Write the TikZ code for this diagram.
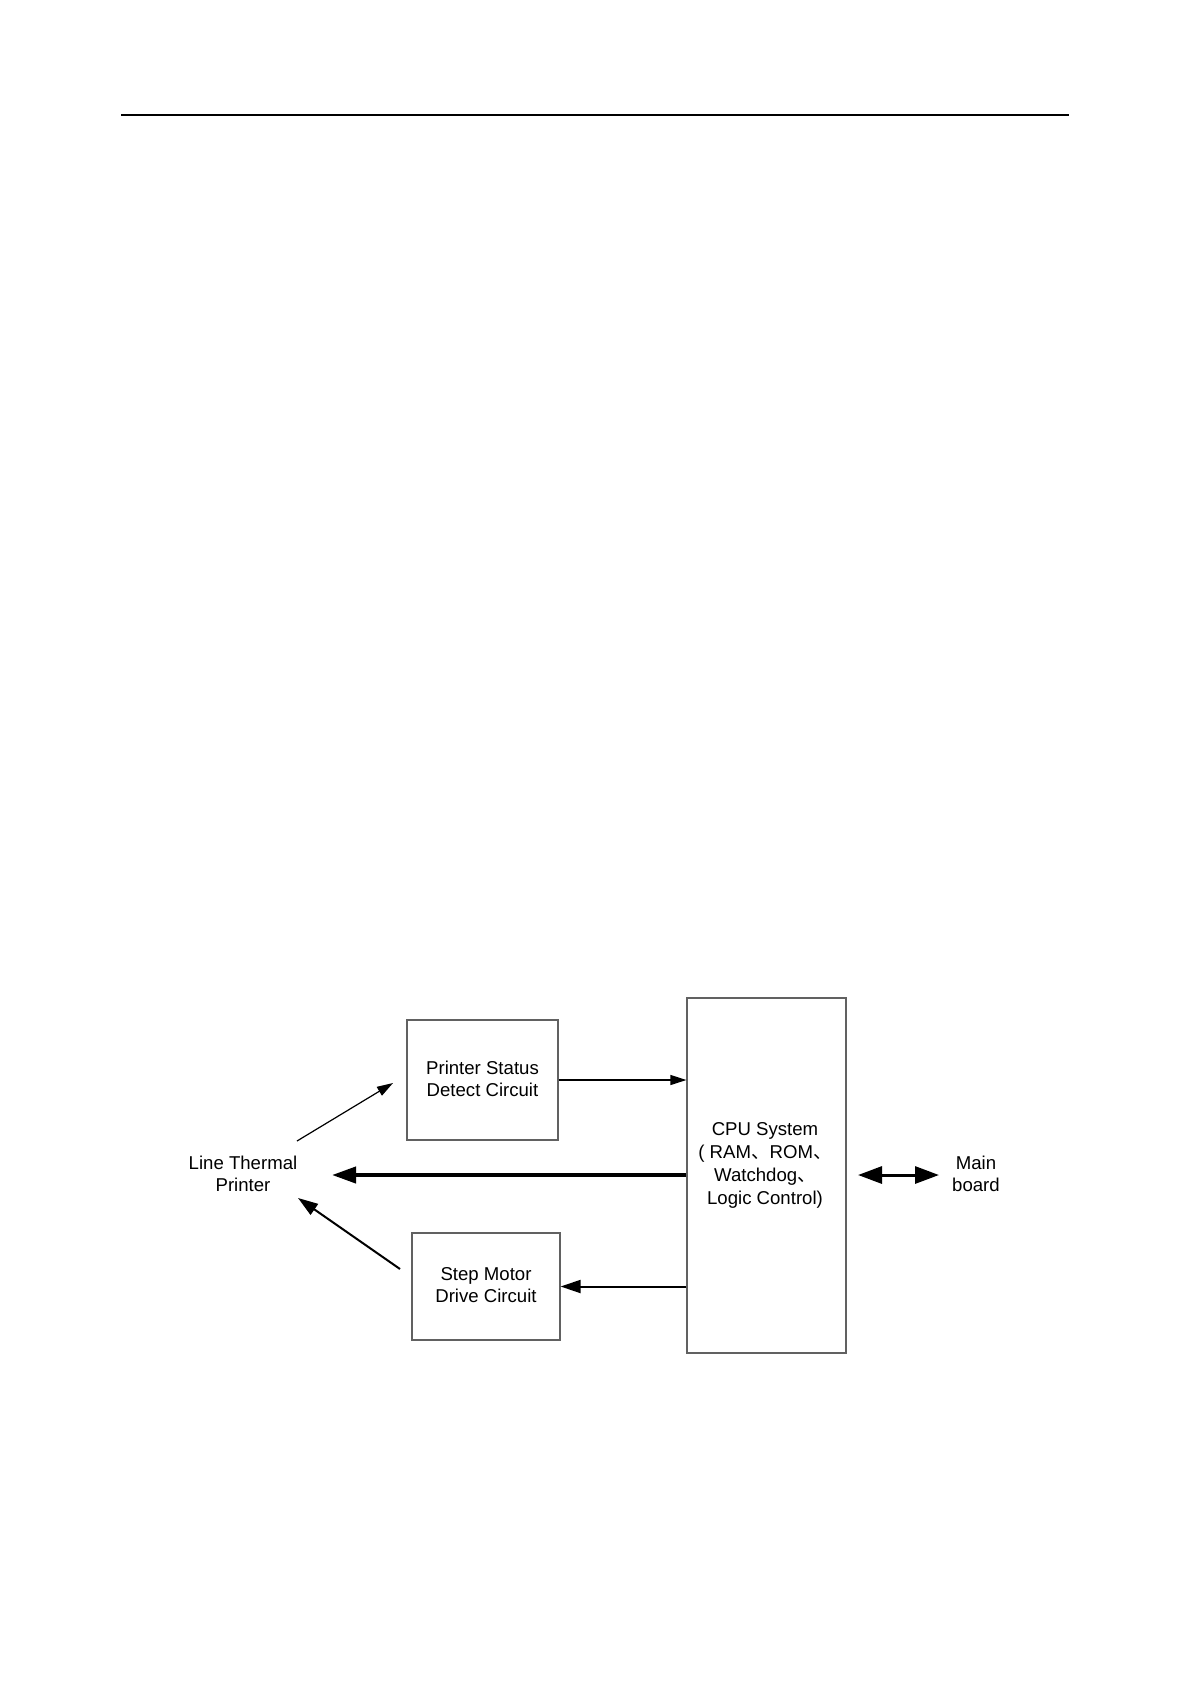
\documentclass[tikz,border=0pt]{standalone}
\usepackage{fontspec}
\setmainfont{Liberation Sans}
\newfontfamily\cjk{Noto Sans CJK SC}
\usetikzlibrary{arrows.meta}
\begin{document}
\begin{tikzpicture}[x=0.5pt,y=-0.5pt,
  box/.style={draw=black!62, line width=0.6pt, inner sep=0pt},
  lbl/.style={align=center, inner sep=0pt, font=\fontsize{9.3pt}{11pt}\selectfont},
  thinarrow/.style={line width=0.6pt, -{Triangle[length=8pt,width=5pt]}},
  medarrow/.style={line width=1pt, -{Triangle[length=10pt,width=6.5pt]}},
  thickarrow/.style={line width=2pt, -{Triangle[length=12pt,width=8pt]}},
  dblarrow/.style={line width=1.5pt, {Triangle[length=12pt,width=8.5pt]}-{Triangle[length=12pt,width=8.5pt]}}]
\useasboundingbox (0,0) rectangle (1190,1682);
\coordinate (rl) at (121,115);
\coordinate (rr) at (1069,115);
\draw[line width=0.75pt] (rl) -- (rr);

\node[box, minimum width=75.5pt, minimum height=60pt] (ps) at (482.5,1080) {};
\node[lbl] (pstext) at (482.5,1079) {Printer Status\\Detect Circuit};
\node[box, minimum width=74pt, minimum height=53.5pt] (sm) at (486,1286.5) {};
\node[lbl] (smtext) at (486,1285.5) {Step Motor\\Drive Circuit};
\node[box, minimum width=79.5pt, minimum height=177.5pt] (cpu) at (766.5,1175.5) {};
\node[lbl, font=\fontsize{9.3pt}{11.5pt}\selectfont] (cputext) at (765,1165) {CPU System\\( RAM{\cjk 、}ROM{\cjk 、}\\Watchdog{\cjk 、}\\Logic Control)};
\node[lbl] (ltp) at (243,1173.5) {Line Thermal\\Printer};
\node[lbl] (mb) at (976,1174) {Main\\board};

\coordinate (ltpout) at (297,1141);
\coordinate (psin) at (393,1083);
\coordinate (ltpin) at (332,1175);
\coordinate (smout) at (400,1269);
\coordinate (ltpin2) at (298,1198);
\coordinate (dbl1) at (858,1175);
\coordinate (dbl2) at (939,1175);

\draw[thinarrow] (ltpout) -- (psin);
\draw[thinarrow] (ps.east) -- (ps.east -| cpu.west);
\draw[thickarrow] (cpu.west |- ltpin) -- (ltpin);
\draw[medarrow] (cpu.west |- sm.east) -- (sm.east);
\draw[medarrow] (smout) -- (ltpin2);
\draw[dblarrow] (dbl1) -- (dbl2);
\end{tikzpicture}
\end{document}
